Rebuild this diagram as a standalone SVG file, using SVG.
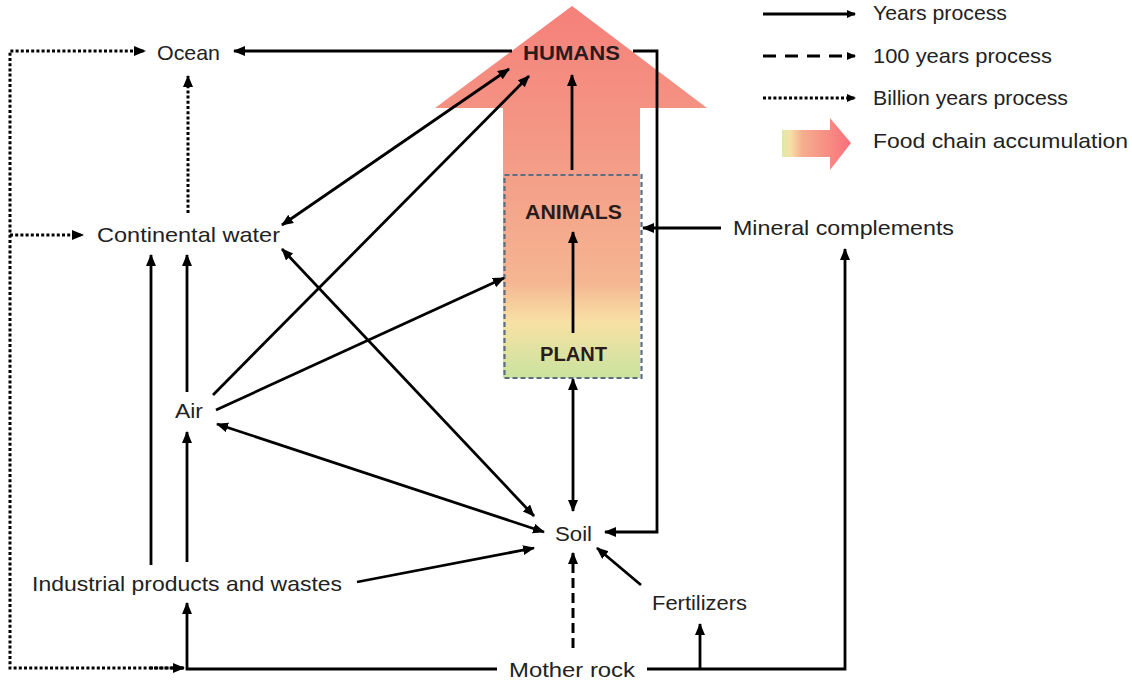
<svg xmlns="http://www.w3.org/2000/svg" width="1132" height="684" viewBox="0 0 1132 684">
<style>
  .t { font-family: "Liberation Sans", Arial, sans-serif; font-size: 21px; fill: #222; }
  .b { font-family: "Liberation Sans", Arial, sans-serif; font-size: 21px; font-weight: bold; fill: #2a1c1c; }
  .s { fill: none; stroke: #000; stroke-width: 2.8; }
  .dot { fill: none; stroke: #000; stroke-width: 3; stroke-dasharray: 3 2.2; }
  .dash { fill: none; stroke: #000; stroke-width: 3; stroke-dasharray: 10 5; }
  .ldash { fill: none; stroke: #000; stroke-width: 3; stroke-dasharray: 13 9; }
  .a { marker-end: url(#ah); }
  .aa { marker-start: url(#ah); marker-end: url(#ah); }
</style>
<defs>
  <marker id="ah" markerUnits="userSpaceOnUse" markerWidth="14" markerHeight="12" refX="11" refY="5" orient="auto-start-reverse">
    <path d="M0,0 L12,5 L0,10 z" fill="#000"/>
  </marker>
  <marker id="ahs" markerUnits="userSpaceOnUse" markerWidth="10" markerHeight="9" refX="8" refY="4" orient="auto">
    <path d="M0,0 L9,4 L0,8 z" fill="#000"/>
  </marker>
  <linearGradient id="gBig" x1="0" y1="6" x2="0" y2="378" gradientUnits="userSpaceOnUse">
    <stop offset="0" stop-color="#F5807A"/>
    <stop offset="0.45" stop-color="#F49E88"/>
    <stop offset="0.74" stop-color="#F5B591"/>
    <stop offset="0.85" stop-color="#F8E1A4"/>
    <stop offset="1" stop-color="#C9E39E"/>
  </linearGradient>
  <linearGradient id="gLeg" x1="782" y1="0" x2="850" y2="0" gradientUnits="userSpaceOnUse">
    <stop offset="0" stop-color="#DCEAA8"/>
    <stop offset="0.12" stop-color="#F7E0A6"/>
    <stop offset="0.3" stop-color="#F5AE8E"/>
    <stop offset="1" stop-color="#F9707A"/>
  </linearGradient>
</defs>

<g id="food-chain-arrow">
  <polygon points="572,6 707,108 640,108 640,378 503,378 503,108 435,108" fill="url(#gBig)"/>
  <rect x="504.5" y="175" width="137" height="203" fill="none" stroke="#5E6E80" stroke-width="2.2" stroke-dasharray="5 3"/>
</g>

<g id="legend">
  <line x1="763" y1="14" x2="855" y2="14" class="s" marker-end="url(#ahs)"/>
  <text x="873" y="20" class="t" textLength="134" lengthAdjust="spacingAndGlyphs">Years process</text>
  <line x1="763" y1="56" x2="855" y2="56" class="ldash" marker-end="url(#ahs)"/>
  <text x="873" y="63" class="t" textLength="179" lengthAdjust="spacingAndGlyphs">100 years process</text>
  <line x1="763" y1="98" x2="855" y2="98" class="dot" marker-end="url(#ahs)"/>
  <text x="873" y="105" class="t" textLength="195" lengthAdjust="spacingAndGlyphs">Billion years process</text>
  <polygon points="782,130 830,130 830,118 851,143 830,170 830,157 782,157" fill="url(#gLeg)"/>
  <text x="873" y="148" class="t" textLength="255" lengthAdjust="spacingAndGlyphs">Food chain accumulation</text>
</g>

<g id="connectors">
  <line x1="512" y1="51" x2="234" y2="51" class="s a"/>
  <polyline points="633,51 657,51 657,532 605,532" class="s a"/>
  <line x1="282" y1="225" x2="509" y2="69" class="s aa"/>
  <line x1="213" y1="395" x2="529" y2="76" class="s a"/>
  <line x1="216" y1="410" x2="504" y2="278" class="s a"/>
  <line x1="282" y1="249" x2="534" y2="516" class="s aa"/>
  <line x1="217" y1="424" x2="544" y2="532" class="s aa"/>
  <line x1="357" y1="582" x2="534" y2="548" class="s a"/>
  <line x1="187" y1="562" x2="187" y2="432" class="s a"/>
  <line x1="151" y1="565" x2="151" y2="255" class="s a"/>
  <line x1="187" y1="392" x2="187" y2="255" class="s a"/>
  <line x1="188" y1="213" x2="188" y2="76" class="dot a"/>
  <polyline points="183,668 10,668 10,51 145,51" class="dot a"/>
  <line x1="10" y1="235" x2="83" y2="235" class="dot a"/>
  <line x1="150" y1="668" x2="184" y2="668" class="dot a"/>
  <polyline points="497,669 187,669 187,603" class="s a"/>
  <polyline points="647,669 845,669 845,249" class="s a"/>
  <line x1="700" y1="669" x2="700" y2="624" class="s a"/>
  <line x1="573" y1="648" x2="573" y2="553" class="dash a"/>
  <line x1="641" y1="585" x2="597" y2="548" class="s a"/>
  <line x1="573" y1="379" x2="573" y2="511" class="s aa"/>
  <line x1="573" y1="333" x2="573" y2="232" class="s a"/>
  <line x1="572" y1="170" x2="572" y2="75" class="s a"/>
  <line x1="721" y1="228" x2="643" y2="228" class="s a"/>
</g>

<g id="node-humans"><text x="523" y="60" class="b" textLength="97" lengthAdjust="spacingAndGlyphs">HUMANS</text></g>
<g id="node-animals"><text x="525" y="219" class="b" textLength="97" lengthAdjust="spacingAndGlyphs">ANIMALS</text></g>
<g id="node-plant"><text x="540" y="361" class="b" fill="#1f2a14" textLength="67" lengthAdjust="spacingAndGlyphs">PLANT</text></g>
<g id="node-ocean"><text x="157" y="60" class="t" textLength="63" lengthAdjust="spacingAndGlyphs">Ocean</text></g>
<g id="node-continental-water"><text x="97" y="242" class="t" textLength="183" lengthAdjust="spacingAndGlyphs">Continental water</text></g>
<g id="node-air"><text x="175" y="418" class="t" textLength="28" lengthAdjust="spacingAndGlyphs">Air</text></g>
<g id="node-industrial"><text x="32" y="591" class="t" textLength="310" lengthAdjust="spacingAndGlyphs">Industrial products and wastes</text></g>
<g id="node-soil"><text x="555" y="541" class="t" textLength="37" lengthAdjust="spacingAndGlyphs">Soil</text></g>
<g id="node-fertilizers"><text x="652" y="610" class="t" textLength="95" lengthAdjust="spacingAndGlyphs">Fertilizers</text></g>
<g id="node-mother-rock"><text x="509" y="677" class="t" textLength="126" lengthAdjust="spacingAndGlyphs">Mother rock</text></g>
<g id="node-mineral"><text x="733" y="235" class="t" textLength="221" lengthAdjust="spacingAndGlyphs">Mineral complements</text></g>
</svg>
